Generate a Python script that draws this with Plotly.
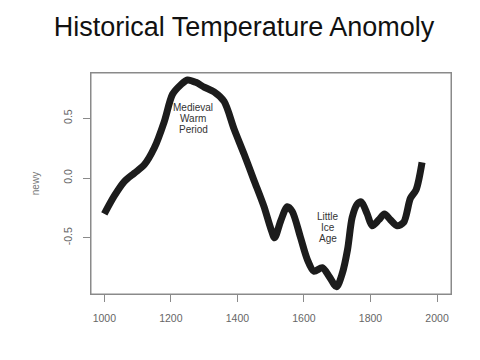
import plotly.graph_objects as go

years = [1000, 1030, 1060, 1090, 1120, 1150, 1180, 1205, 1230, 1250, 1275, 1300, 1330,
         1360, 1390, 1420, 1450, 1480, 1500, 1512, 1530, 1550, 1565, 1590, 1610, 1630,
         1655, 1675, 1698, 1715, 1731, 1745, 1760, 1772, 1790, 1805, 1825, 1842, 1860,
         1880, 1900, 1920, 1937, 1955]
newy = [-0.30, -0.15, -0.03, 0.04, 0.11, 0.25, 0.47, 0.70, 0.78, 0.82, 0.80, 0.76, 0.72,
        0.64, 0.41, 0.20, -0.02, -0.24, -0.42, -0.50, -0.36, -0.24, -0.28, -0.50, -0.68, -0.78,
        -0.75, -0.82, -0.91, -0.80, -0.60, -0.33, -0.22, -0.20, -0.30, -0.40, -0.35, -0.30, -0.35,
        -0.40, -0.37, -0.17, -0.10, 0.13]
x_ticks = [1000, 1200, 1400, 1600, 1800, 2000]
y_ticks = [-0.5, 0.0, 0.5]
y_tick_labels = ["-0.5", "0.0", "0.5"]
notes = [(["Medieval", "Warm", "Period"], 1268, 0.50), (["Little", "Ice", "Age"], 1672, -0.41)]

FONT = "Liberation Sans, Arial, sans-serif"

fig = go.Figure()
fig.add_trace(go.Scatter(x=years, y=newy, mode="lines",
                         line=dict(color="#1c1c1c", width=7, shape="spline", smoothing=0.8),
                         showlegend=False, hoverinfo="skip"))
for lines, xx, yy in notes:
    for i, txt in enumerate(lines):
        fig.add_annotation(x=xx, y=yy, text=txt, showarrow=False, yshift=(1 - i) * 11,
                           font=dict(size=10, color="#333333", family=FONT),
                           align="center")

# box around plot area
fig.add_shape(type="rect", xref="paper", yref="paper", x0=0, y0=0, x1=1, y1=1,
              line=dict(color="#8a8a8a", width=1), layer="below")

axis_common = dict(showline=True, linecolor="#8a8a8a", linewidth=1, mirror=True,
                   ticks="outside", ticklen=7, tickcolor="#8a8a8a", showgrid=False,
                   zeroline=False, ticklabelstandoff=7,
                   tickfont=dict(size=10.5, color="#666666", family=FONT))
fig.update_xaxes(range=[960, 2042], tickvals=x_ticks, **axis_common)
fig.update_yaxes(range=[-0.97, 0.878], tickvals=y_ticks, ticktext=y_tick_labels,
                 tickangle=-90, title=dict(text="newy", font=dict(size=10, color="#777777",
                                                                   family=FONT),
                                           standoff=20),
                 **axis_common)
fig.update_layout(
    width=472, height=352,
    margin=dict(l=83, r=29, t=65, b=66),
    paper_bgcolor="white", plot_bgcolor="white",
    title=dict(text="Historical Temperature Anomoly", x=0.5, xanchor="center",
               y=0.946, yanchor="middle",
               font=dict(size=27, color="#111111", family=FONT)),
)
fig.write_html("out.html")
